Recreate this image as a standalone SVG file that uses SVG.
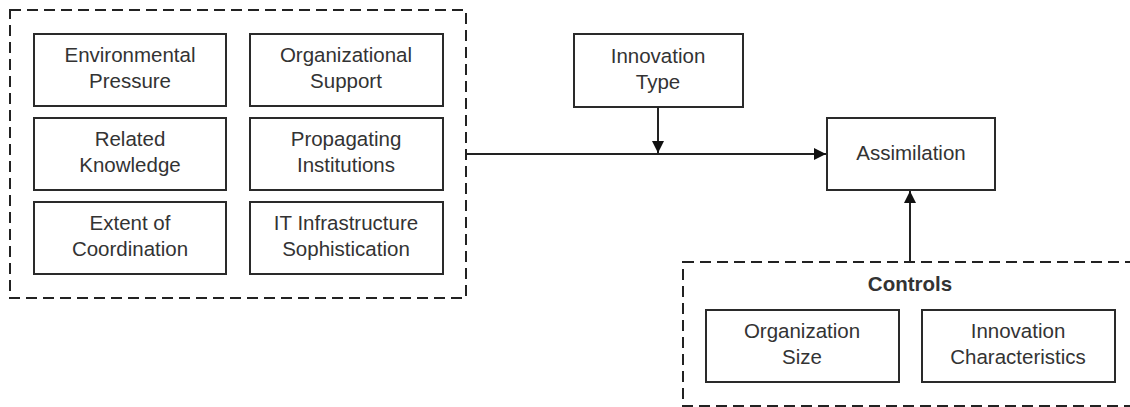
<svg xmlns="http://www.w3.org/2000/svg" width="1130" height="407" viewBox="0 0 1130 407">
<defs>
<style>
.box{fill:#fff;stroke:#2a2a2a;stroke-width:2}
.grp{fill:none;stroke:#222;stroke-width:2;stroke-dasharray:11 6}
.t{font-family:"Liberation Sans",Arial,sans-serif;font-size:20.5px;fill:#333;text-anchor:middle}
.b{font-weight:bold;font-size:20.5px}
.ln{fill:none;stroke:#222;stroke-width:2}
</style>
<marker id="ah" viewBox="0 0 10 10" refX="10" refY="5" markerWidth="6" markerHeight="6" orient="auto" markerUnits="strokeWidth">
<path d="M0,0 L10,5 L0,10 z" fill="#111"/>
</marker>
</defs>
<rect width="1130" height="407" fill="#fff"/>
<g id="factors">
<rect class="grp" x="10" y="10" width="456" height="288"/>
</g>
<g id="env"><rect class="box" x="34" y="34" width="192" height="72"/><text class="t" x="130" y="62">Environmental</text><text class="t" x="130" y="88">Pressure</text></g>
<g id="org"><rect class="box" x="250" y="34" width="193" height="72"/><text class="t" x="346" y="62">Organizational</text><text class="t" x="346" y="88">Support</text></g>
<g id="rel"><rect class="box" x="34" y="118" width="192" height="72"/><text class="t" x="130" y="146">Related</text><text class="t" x="130" y="172">Knowledge</text></g>
<g id="prop"><rect class="box" x="250" y="118" width="193" height="72"/><text class="t" x="346" y="146">Propagating</text><text class="t" x="346" y="172">Institutions</text></g>
<g id="ext"><rect class="box" x="34" y="202" width="192" height="72"/><text class="t" x="130" y="230">Extent of</text><text class="t" x="130" y="256">Coordination</text></g>
<g id="itinf"><rect class="box" x="250" y="202" width="193" height="72"/><text class="t" x="346" y="230">IT Infrastructure</text><text class="t" x="346" y="256">Sophistication</text></g>
<g id="innovtype"><rect class="box" x="574" y="34" width="169" height="73"/><text class="t" x="658" y="63">Innovation</text><text class="t" x="658" y="89">Type</text></g>
<g id="assim"><rect class="box" x="827" y="118" width="168" height="72"/><text class="t" x="911" y="160">Assimilation</text></g>
<g id="controls">
<rect class="grp" x="683" y="262" width="460" height="144"/>
<text class="t b" x="910" y="291">Controls</text>
</g>
<g id="orgsize"><rect class="box" x="706" y="310" width="193" height="72"/><text class="t" x="802" y="338">Organization</text><text class="t" x="802" y="364">Size</text></g>
<g id="innchar"><rect class="box" x="922" y="310" width="193" height="72"/><text class="t" x="1018" y="338">Innovation</text><text class="t" x="1018" y="364">Characteristics</text></g>
<g id="connectors">
<line class="ln" x1="466" y1="154" x2="826" y2="154" marker-end="url(#ah)"/>
<line class="ln" x1="658" y1="107" x2="658" y2="153" marker-end="url(#ah)"/>
<line class="ln" x1="910" y1="262" x2="910" y2="191" marker-end="url(#ah)"/>
</g>
</svg>
